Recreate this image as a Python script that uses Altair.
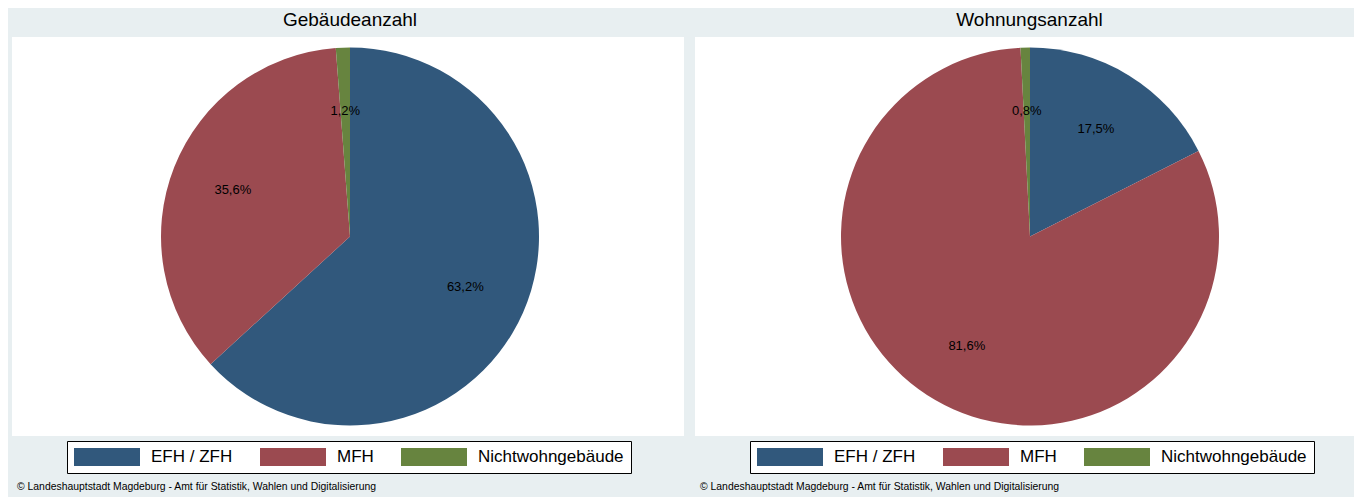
import altair as alt
import pandas as pd

categories = ["EFH / ZFH", "MFH", "Nichtwohngebäude"]
colors = ["#31587c", "#9b4a50", "#67843f"]
order_index = [1, 2, 3]

gebaeude_values = [63.2, 35.6, 1.2]
gebaeude_labels = ["63,2%", "35,6%", "1,2%"]

wohnungen_values = [17.5, 81.6, 0.8]
wohnungen_labels = ["17,5%", "81,6%", "0,8%"]

titles = ["Gebäudeanzahl", "Wohnungsanzahl"]
footnote = "© Landeshauptstadt Magdeburg - Amt für Statistik, Wahlen und Digitalisierung"

FONT = "Liberation Sans"


def panel(values, labels, title, width, cx, title_shift):
    df = pd.DataFrame({"cat": categories, "value": values, "label": labels, "ord": order_index})
    base = alt.Chart(df).encode(
        theta=alt.Theta("value:Q", stack=True),
        order=alt.Order("ord:Q"),
        x=alt.value(cx),
    )
    arcs = base.mark_arc(outerRadius=189).encode(
        color=alt.Color(
            "cat:N",
            scale=alt.Scale(domain=categories, range=colors),
            sort=categories,
            legend=alt.Legend(
                title=None,
                orient="none",
                legendX=55,
                legendY=404,
                direction="horizontal",
                symbolType="M-1,-0.273H1V0.273H-1Z",
                symbolSize=4356,
                symbolStrokeWidth=0,
                symbolOpacity=1,
                clipHeight=18,
                labelFontSize=17,
                labelFont=FONT,
                labelColor="black",
                labelOffset=11,
                labelLimit=400,
                columnPadding=27,
                padding=7,
                strokeColor="black",
                fillColor="white",
            ),
        )
    )
    text = base.mark_text(radius=126, fontSize=13, font=FONT, color="black").encode(
        text="label:N"
    )
    foot = alt.Chart(pd.DataFrame({"t": [footnote]})).mark_text(
        align="left", baseline="middle", fontSize=10.4, font=FONT, color="black"
    ).encode(x=alt.value(5), y=alt.value(450), text="t:N")
    return alt.layer(arcs, text, foot).properties(
        width=width,
        height=399,
        title=alt.Title(
            title,
            fontSize=19,
            font=FONT,
            fontWeight="normal",
            color="black",
            anchor="middle",
            offset=7,
            dx=title_shift,
        ),
    )


left = panel(gebaeude_values, gebaeude_labels, titles[0], 672, 338, 2)
right = panel(wohnungen_values, wohnungen_labels, titles[1], 659, 335, 5)

chart = (
    alt.hconcat(left, right, spacing=11)
    .resolve_scale(color="independent")
    .resolve_legend(color="independent")
    .configure(background="#e8eff1", padding={"left": 4, "top": 3, "right": 0, "bottom": 5})
    .configure_view(fill="white", stroke="white", strokeWidth=0)
)

chart.save("out.html", embed_options={"renderer": "svg", "actions": False})
